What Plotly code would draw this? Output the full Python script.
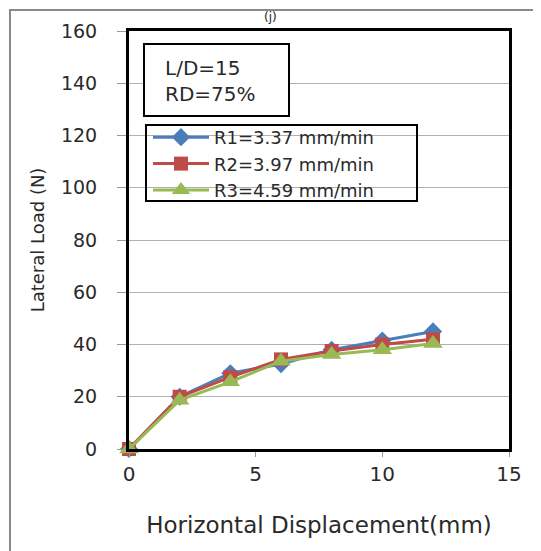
import plotly.graph_objects as go

displacement = [0, 2, 4, 6, 8, 10, 12]
r1_load = [0, 20, 29, 32.5, 38, 41.5, 45]
r2_load = [0, 20, 27.5, 34.3, 37.5, 40, 42]
r3_load = [0, 18.7, 25.7, 33.6, 36.2, 38, 40.4]
series_names = ["R1=3.37 mm/min", "R2=3.97 mm/min", "R3=4.59 mm/min"]
x_ticks = [0, 5, 10, 15]
y_ticks = [0, 20, 40, 60, 80, 100, 120, 140, 160]

FONT = "DejaVu Sans"
OFF = 8  # default page body margin
W, H = 541 - OFF, 551 - OFF
# plot area in screenshot pixels: x 129..509, y 31..449
L, T = 129 - OFF, 31 - OFF
pw, ph = 380, 418
R, B = W - L - pw, H - T - ph

def px(x):
    return (x - OFF - L) / pw

def py(y):
    return (T + ph - (y - OFF)) / ph

fig = go.Figure()
styles = [
    ("#4a7ebb", "diamond", 14),
    ("#be4b48", "square", 14),
    ("#98b954", "triangle-up", 17),
]
for name, ys, (c, sym, sz) in zip(series_names, [r1_load, r2_load, r3_load], styles):
    fig.add_trace(go.Scatter(
        x=displacement, y=ys, name=name, mode="lines+markers",
        line=dict(color=c, width=3),
        marker=dict(symbol=sym, size=sz, color=c),
        cliponaxis=False,
    ))

fig.update_layout(
    width=W, height=H,
    margin=dict(l=L, r=R, t=T, b=B),
    paper_bgcolor="white", plot_bgcolor="white",
    font=dict(family=FONT, size=18, color="#2a2a2a"),
    showlegend=True,
    legend=dict(
        x=px(148), y=py(119), xanchor="left", yanchor="top",
        bgcolor="rgba(0,0,0,0)", borderwidth=0,
        font=dict(size=18, family=FONT, color="#2a2a2a"),
        itemwidth=56, tracegroupgap=0,
    ),
    xaxis=dict(
        range=[0, 15], tickvals=x_ticks, ticks="outside", ticklen=5,
        tickcolor="#999", showgrid=False, zeroline=False,
        showline=True, linecolor="black", linewidth=3, mirror=True,
        title=dict(text="Horizontal Displacement(mm)", font=dict(size=23), standoff=32),
        tickfont=dict(size=20),
    ),
    yaxis=dict(
        range=[0, 160], tickvals=y_ticks, ticks="outside", ticklen=9,
        tickcolor="#999", showgrid=True, gridcolor="#b0b0b0", gridwidth=1,
        zeroline=False, showline=True, linecolor="black", linewidth=3, mirror=True,
        title=dict(text="Lateral Load (N)", font=dict(size=18), standoff=12),
        tickfont=dict(size=19), ticklabelstandoff=16,
    ),
)

# outer frame
fig.add_shape(type="rect", xref="paper", yref="paper",
              x0=px(10), x1=px(620), y0=py(10), y1=py(640),
              line=dict(color="#8a8a8a", width=2), fillcolor="rgba(0,0,0,0)", layer="below")

# legend box
fig.add_shape(type="rect", xref="paper", yref="paper",
              x0=px(146), x1=px(417), y0=py(125), y1=py(201),
              line=dict(color="black", width=2), fillcolor="rgba(0,0,0,0)", layer="above")

# info box
fig.add_shape(type="rect", xref="paper", yref="paper",
              x0=px(144), x1=px(289), y0=py(44), y1=py(116),
              line=dict(color="black", width=2), fillcolor="white", layer="above")
fig.add_annotation(xref="paper", yref="paper", x=px(163), y=py(81),
                   xanchor="left", yanchor="middle", align="left", showarrow=False,
                   text="L/D=15<br>RD=75%", font=dict(size=20, family=FONT, color="#2a2a2a"))

fig.add_annotation(xref="paper", yref="paper", x=px(270), y=py(OFF),
                   xanchor="center", yanchor="top", showarrow=False,
                   text="(j)", font=dict(size=12, family=FONT, color="#222222"))

fig.write_html("out.html")
